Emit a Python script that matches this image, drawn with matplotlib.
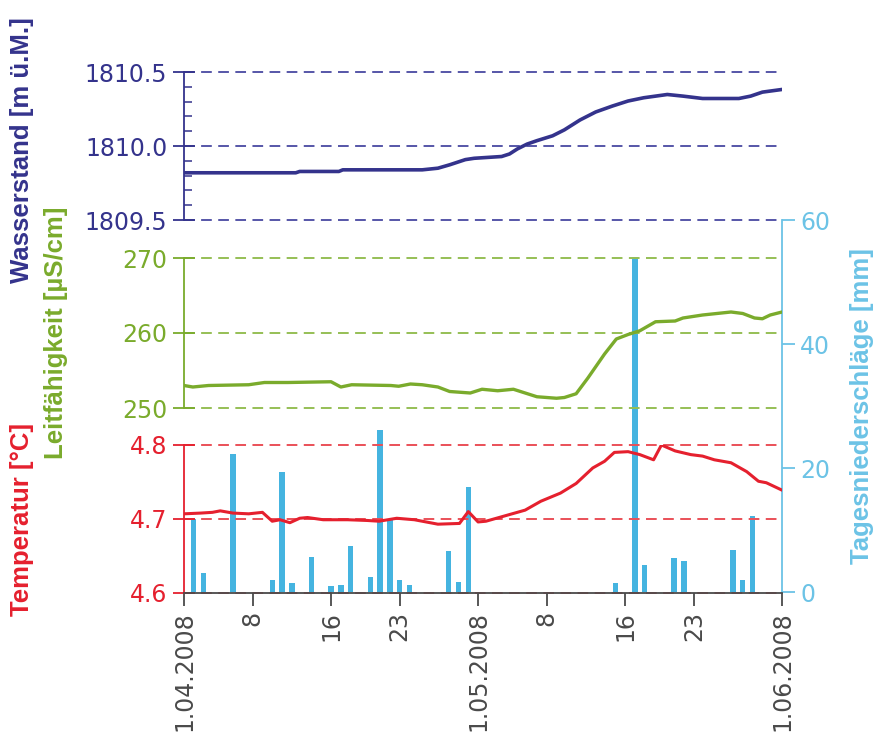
import matplotlib
matplotlib.use("Agg")
import matplotlib.pyplot as plt
from matplotlib.ticker import FixedLocator, MultipleLocator, FormatStrFormatter

# ---------------- data (day offset from 1.04.2008) ----------------
water_days = [0, 11.4, 11.8, 15.8, 16.2, 24.3, 25.9, 27.1, 28.7, 29.6, 32.4, 33.2, 34.0,
              35.0, 36.0, 37.6, 38.8, 40.4, 42.0, 43.7, 45.3, 46.9, 49.3, 50.9, 52.9,
              56.6, 57.8, 59.0, 61.0]
water_level = [1809.819, 1809.819, 1809.828, 1809.828, 1809.839, 1809.839, 1809.850, 1809.873,
               1809.908, 1809.917, 1809.929, 1809.946, 1809.980, 1810.013, 1810.036, 1810.069,
               1810.109, 1810.176, 1810.230, 1810.270, 1810.304, 1810.326, 1810.348, 1810.337,
               1810.321, 1810.321, 1810.337, 1810.364, 1810.382]

cond_days = [0, 0.9, 2.5, 6.6, 8.2, 10.6, 15.0, 16.0, 17.1, 21.1, 21.9, 23.1, 24.3, 25.9,
             27.1, 29.2, 30.4, 32.0, 33.6, 34.8, 36.0, 38.0, 38.8, 40.0, 41.2, 42.9, 44.1,
             45.3, 46.5, 48.1, 50.1, 50.9, 52.9, 55.8, 57.0, 58.2, 59.0, 59.8, 61.0]
conductivity = [253.0, 252.8, 253.0, 253.1, 253.4, 253.4, 253.5, 252.8, 253.1, 253.0, 252.9,
                253.2, 253.1, 252.8, 252.2, 252.0, 252.5, 252.3, 252.5, 252.0, 251.5, 251.3,
                251.4, 251.9, 254.0, 257.2, 259.2, 259.8, 260.3, 261.5, 261.6, 262.0, 262.4,
                262.8, 262.6, 262.0, 261.9, 262.4, 262.8]

temp_days = [0, 1.7, 2.9, 3.7, 5.0, 6.6, 8.0, 9.0, 9.8, 10.8, 11.8, 12.6, 14.2, 16.7, 18.7,
             19.9, 21.7, 23.5, 25.9, 28.1, 29.0, 30.0, 30.8, 32.4, 34.8, 36.4, 38.4, 40.0,
             41.7, 42.9, 43.9, 45.3, 46.5, 47.9, 48.7, 50.1, 51.7, 52.9, 54.1, 55.8, 57.4,
             58.6, 59.4, 61.0]
temperature = [4.707, 4.708, 4.709, 4.711, 4.708, 4.707, 4.709, 4.697, 4.699, 4.695, 4.701,
               4.702, 4.699, 4.699, 4.698, 4.697, 4.701, 4.699, 4.693, 4.694, 4.710, 4.696,
               4.697, 4.703, 4.712, 4.724, 4.735, 4.748, 4.769, 4.778, 4.790, 4.791, 4.787,
               4.780, 4.800, 4.792, 4.787, 4.785, 4.780, 4.776, 4.764, 4.751, 4.749, 4.739]

rain_days = [1, 2, 5, 9, 10, 11, 13, 15, 16, 17, 19, 20, 21, 22, 23, 27, 28, 29,
             44, 46, 47, 50, 51, 56, 57, 58]
rain_mm = [11.7, 3.1, 22.2, 2.0, 19.4, 1.5, 5.6, 1.0, 1.1, 7.5, 2.4, 26.1, 11.7, 2.0, 1.2,
           6.6, 1.6, 16.9, 1.5, 54.0, 4.3, 5.5, 5.0, 6.7, 1.9, 12.3]

x_ticks = [0, 7, 15, 22, 30, 37, 45, 52, 61]
x_labels = ["1.04.2008", "8", "16", "23", "1.05.2008", "8", "16", "23", "1.06.2008"]

water_ticks = [1809.5, 1810.0, 1810.5]
cond_ticks = [250, 260, 270]
temp_ticks = [4.6, 4.7, 4.8]
rain_ticks = [0, 20, 40, 60]

# ---------------- style ----------------
NAVY = "#34338c"
NAVY_G = "#5656a8"
GREEN = "#7aab2c"
GREEN_G = "#96bf55"
RED = "#e5202e"
RED_G = "#ea5058"
CYAN = "#45b4e0"
CYAN_A = "#6cc3e6"
GRAY = "#4a4a4a"

TICKFONT = dict(family="DejaVu Sans", size=17)
LABELFONT = dict(family=["Liberation Sans", "DejaVu Sans"], size=18.5, weight="bold")

W, H = 882, 746
fig = plt.figure(figsize=(W / 100, H / 100), dpi=100)


def rect(px_left, px_top, px_right, px_bottom):
    return [px_left / W, 1 - px_bottom / H, (px_right - px_left) / W, (px_bottom - px_top) / H]


XL, XR = 184, 782
ax_p = fig.add_axes(rect(XL, 220, XR, 592))
ax_w = fig.add_axes(rect(XL, 72, XR, 220))
ax_c = fig.add_axes(rect(XL, 258, XR, 408))
ax_t = fig.add_axes(rect(XL, 445, XR, 593))

ax_p.set_zorder(0)
for a in (ax_w, ax_c, ax_t):
    a.set_zorder(1)
    a.patch.set_facecolor("none")

DASH = (0, (5.5, 3.3))


def style_panel(ax, ticks, color, grid_color, lo, hi, fmt):
    ax.set_xlim(0, 61)
    ax.set_ylim(lo, hi)
    for s in ("top", "right", "bottom"):
        ax.spines[s].set_visible(False)
    ax.spines["left"].set_color(color)
    ax.spines["left"].set_linewidth(1.3)
    ax.yaxis.set_major_locator(FixedLocator(ticks))
    ax.yaxis.set_major_formatter(FormatStrFormatter(fmt))
    ax.tick_params(axis="y", which="major", direction="inout", length=16, width=1.3,
                   color=color, labelcolor=color, pad=4)
    for lab in ax.get_yticklabels():
        lab.set_fontfamily(TICKFONT["family"])
        lab.set_fontsize(TICKFONT["size"])
    for t in ticks:
        ax.axhline(t, color=grid_color, lw=1.4, ls=DASH, clip_on=False, zorder=1)
    ax.set_xticks([])


style_panel(ax_w, water_ticks, NAVY, NAVY_G, 1809.5, 1810.5, "%.1f")
ax_w.yaxis.set_minor_locator(MultipleLocator(0.1))
ax_w.tick_params(axis="y", which="minor", direction="in", length=6, width=1.1, color=NAVY)
style_panel(ax_c, cond_ticks, GREEN, GREEN_G, 250, 270, "%d")
style_panel(ax_t, temp_ticks, RED, RED_G, 4.6, 4.8, "%.1f")

ax_w.plot(water_days, water_level, color=NAVY, lw=2.6, zorder=3, solid_capstyle="round")
ax_c.plot(cond_days, conductivity, color=GREEN, lw=2.4, zorder=3, solid_capstyle="round")
ax_t.plot(temp_days, temperature, color=RED, lw=2.2, zorder=3, solid_capstyle="round")

# x axis on the temperature panel
ax_t.spines["bottom"].set_visible(True)
ax_t.spines["bottom"].set_color(GRAY)
ax_t.spines["bottom"].set_linewidth(1.3)
ax_t.set_xticks(x_ticks)
ax_t.set_xticklabels(x_labels, rotation=90, color=GRAY, fontsize=17, fontfamily="DejaVu Sans")
ax_t.tick_params(axis="x", direction="out", length=9, width=1.3, color=GRAY, pad=4)

# precipitation axis (right)
ax_p.bar(rain_days, rain_mm, width=0.55, color=CYAN, zorder=2)
ax_p.set_xlim(0, 61)
ax_p.set_ylim(0, 60)
for s in ("top", "left", "bottom"):
    ax_p.spines[s].set_visible(False)
ax_p.spines["right"].set_color(CYAN_A)
ax_p.spines["right"].set_linewidth(1.3)
ax_p.set_xticks([])
ax_p.yaxis.tick_right()
ax_p.set_yticks(rain_ticks)
ax_p.set_yticklabels([str(v) for v in rain_ticks], fontsize=17, fontfamily="DejaVu Sans")
ax_p.tick_params(axis="y", direction="out", length=9, width=1.3, color=CYAN_A,
                 labelcolor=CYAN_A, pad=4)

# axis titles
fig.text(22 / W, 1 - 150 / H, "Wasserstand [m ü.M.]", rotation=90, color=NAVY,
         ha="center", va="center", **LABELFONT)
fig.text(56 / W, 1 - 333 / H, "Leitfähigkeit [µS/cm]", rotation=90, color=GREEN,
         ha="center", va="center", **LABELFONT)
fig.text(22 / W, 1 - 519 / H, "Temperatur [°C]", rotation=90, color=RED,
         ha="center", va="center", **LABELFONT)
fig.text(862 / W, 1 - 406 / H, "Tagesniederschläge [mm]", rotation=90, color=CYAN_A,
         ha="center", va="center", **LABELFONT)

fig.savefig("out.png", dpi=100)
